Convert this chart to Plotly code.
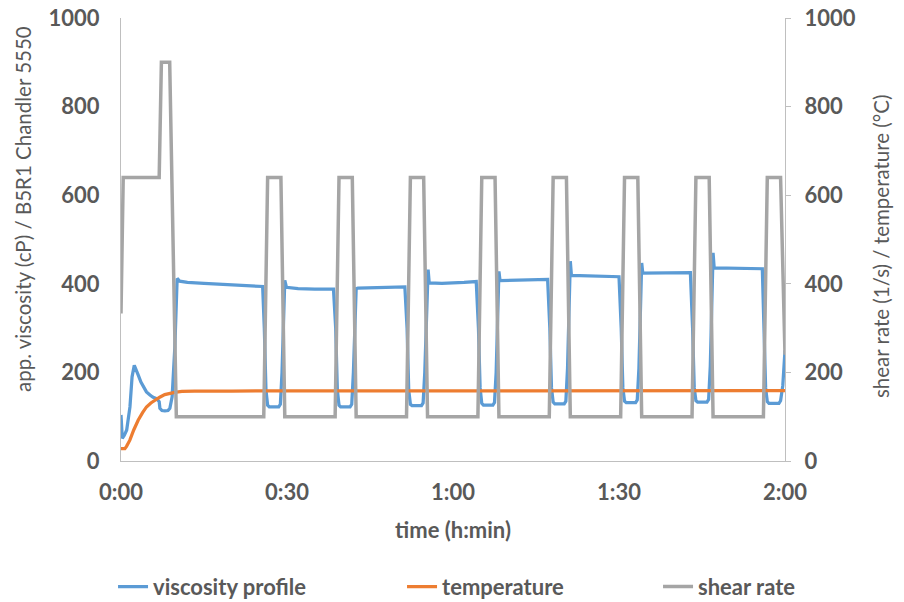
import plotly.graph_objects as go

# ---- data (time in minutes) ----
visc_t = [0.0, 0.23, 0.6, 1.03, 1.62, 2.0, 2.4, 2.7, 3.12, 3.6, 4.02, 4.6, 5.23, 5.8, 6.43, 6.9, 7.03, 7.4, 7.93, 8.5, 8.83, 9.24, 9.73, 10.0, 10.15, 10.6, 12, 15, 18, 21, 24, 25.6,
          25.9, 26.2, 26.5, 26.8, 28.5, 28.8, 29.1, 29.4, 29.6, 29.9, 32, 35, 38.4,
          38.8, 39.1, 39.4, 39.7, 41.4, 41.7, 42.0, 42.3, 42.5, 42.8, 46, 51.3,
          51.7, 52.0, 52.3, 52.6, 54.3, 54.6, 54.9, 55.2, 55.5, 55.7, 58, 62, 64.2,
          64.6, 64.9, 65.2, 65.5, 67.2, 67.5, 67.8, 68.1, 68.3, 68.5, 72, 77.1,
          77.5, 77.8, 78.1, 78.4, 80.1, 80.4, 80.7, 81.0, 81.2, 81.4, 85, 90.0,
          90.4, 90.7, 91.0, 91.3, 93.0, 93.3, 93.6, 93.9, 94.1, 94.3, 98, 102.9,
          103.3, 103.6, 103.9, 104.2, 105.9, 106.2, 106.5, 106.8, 107.0, 107.2, 111, 115.9,
          116.2, 116.5, 116.8, 117.1, 118.9, 119.2, 119.6, 120.0]
visc_v = [104, 51, 58, 70, 122, 190, 216, 208, 194, 178, 167, 156, 149, 144, 141, 134, 119, 114, 113, 114, 119, 145, 257, 380, 412, 406, 403, 401, 399, 396, 395, 394,
          300, 160, 126, 122, 122, 128, 200, 330, 408, 392, 389, 388, 388,
          300, 160, 126, 122, 122, 128, 200, 330, 389, 390, 391, 393,
          300, 160, 128, 125, 125, 131, 200, 330, 432, 402, 401, 403, 405,
          300, 165, 130, 126, 126, 132, 200, 330, 428, 407, 408, 410,
          300, 165, 133, 129, 129, 135, 210, 340, 451, 419, 418, 416,
          300, 165, 135, 132, 132, 138, 210, 340, 447, 424, 424, 425,
          300, 165, 136, 133, 133, 139, 215, 350, 470, 436, 435, 434,
          300, 165, 134, 130, 130, 136, 170, 250]

temp_t = [0, 0.7, 1.0, 1.6, 2.3, 3.1, 3.9, 4.6, 5.4, 6.1, 7.0, 7.9, 8.8, 9.7, 11, 13.3, 20, 40, 60, 80, 100, 120]
temp_v = [28, 28, 33, 47, 70, 92, 109, 122, 131, 137, 144, 150, 153, 155, 157, 158, 158, 158, 159, 159, 159, 159]

shear_t = [0, 0.4, 6.9, 7.3, 8.8, 10.0,
           25.8, 26.5, 28.9, 29.6,
           38.7, 39.4, 41.8, 42.5,
           51.6, 52.3, 54.7, 55.4,
           64.5, 65.2, 67.6, 68.3,
           77.4, 78.1, 80.5, 81.2,
           90.3, 91.0, 93.4, 94.1,
           103.2, 103.9, 106.3, 107.0,
           116.1, 116.8, 119.2, 120.0]
shear_v = [333, 640, 640, 900, 900, 100,
           100, 640, 640, 100,
           100, 640, 640, 100,
           100, 640, 640, 100,
           100, 640, 640, 100,
           100, 640, 640, 100,
           100, 640, 640, 100,
           100, 640, 640, 100,
           100, 640, 640, 240]

x_tickvals = [0, 30, 60, 90, 120]
x_ticktext = ["0:00", "0:30", "1:00", "1:30", "2:00"]
y_tickvals = [0, 200, 400, 600, 800, 1000]

y_title = "app. viscosity (cP) / B5R1 Chandler 5550"
y2_title = "shear rate (1/s) / temperature (°C)"
x_title = "time (h:min)"

TXT = "#595959"
AX = "#BFBFBF"
FONT = "Lato"

fig = go.Figure()
fig.add_trace(go.Scatter(x=visc_t, y=visc_v, mode="lines", name="viscosity profile",
                         line=dict(color="#5B9BD5", width=3.25), yaxis="y", legendwidth=244))
fig.add_trace(go.Scatter(x=temp_t, y=temp_v, mode="lines", name="temperature",
                         line=dict(color="#ED7D31", width=3.25), yaxis="y2", legendwidth=211))
fig.add_trace(go.Scatter(x=shear_t, y=shear_v, mode="lines", name="shear rate",
                         line=dict(color="#A5A5A5", width=3.5), yaxis="y2"))

fig.update_layout(
    width=904, height=602,
    margin=dict(l=121, r=119, t=18, b=141, autoexpand=False),
    paper_bgcolor="white", plot_bgcolor="white",
    font=dict(family=FONT, color=TXT, size=22),
    hovermode=False,
    showlegend=True,
    legend=dict(orientation="h", x=-0.012, xanchor="left", y=-0.284, yanchor="middle",
                font=dict(family=FONT, size=22, color=TXT, weight="bold"),
                bgcolor="rgba(0,0,0,0)"),
    xaxis=dict(range=[0, 120], tickvals=x_tickvals, ticktext=x_ticktext, automargin=False,
               showgrid=False, zeroline=False, showline=True, linecolor=AX, linewidth=1,
               ticks="", ticklabelstandoff=12, ticklabeloverflow="allow",
               tickfont=dict(family=FONT, size=22, color=TXT, weight="bold"),
               title=dict(text=x_title, standoff=18,
                          font=dict(family=FONT, size=22, color=TXT, weight="bold"))),
    yaxis=dict(range=[0, 1000], tickvals=y_tickvals, showgrid=False, zeroline=False, automargin=False,
               showline=True, linecolor=AX, linewidth=1, ticks="", ticklabelstandoff=16,
               ticklabeloverflow="allow",
               tickfont=dict(family=FONT, size=22, color=TXT, weight="bold")),
    yaxis2=dict(range=[0, 1000], tickvals=y_tickvals, overlaying="y", side="right", automargin=False,
                showgrid=False, zeroline=False, showline=True, linecolor=AX, linewidth=1,
                ticks="outside", ticklen=5, tickcolor=AX, ticklabelstandoff=9,
                ticklabeloverflow="allow",
                tickfont=dict(family=FONT, size=22, color=TXT, weight="bold")),
    annotations=[
        dict(text=y_title, xref="paper", yref="paper", x=-0.1476, y=0.5688,
             xanchor="center", yanchor="middle", textangle=-90, showarrow=False,
             font=dict(family=FONT, size=20.5, color=TXT)),
        dict(text=y2_title, xref="paper", yref="paper", x=1.1446, y=0.4853,
             xanchor="center", yanchor="middle", textangle=-90, showarrow=False,
             font=dict(family=FONT, size=20.5, color=TXT)),
    ],
)

# remove the default 8px page margin so the 904x602 figure fills the window exactly
fig.write_html("out.html", config={"displayModeBar": False, "staticPlot": True},
               post_script="document.body.style.margin='0';document.body.style.overflow='hidden';")
